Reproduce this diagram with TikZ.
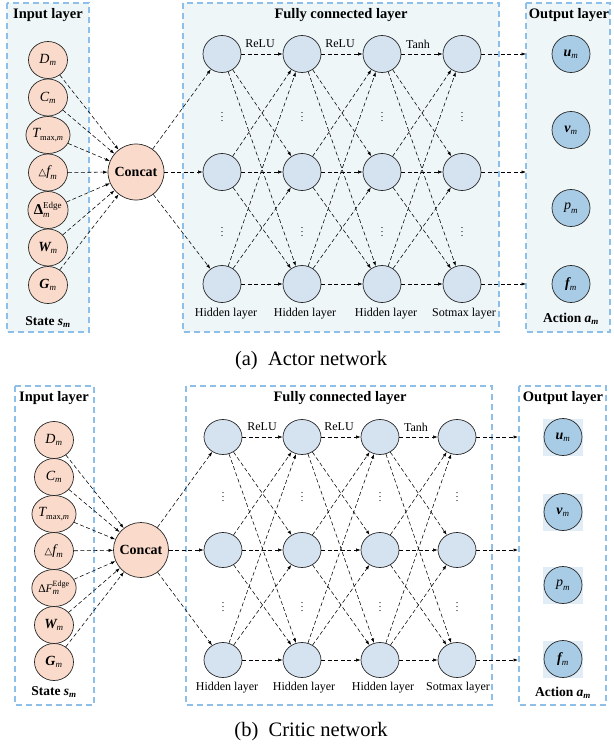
\documentclass[tikz,border=0pt]{standalone}
\usepackage{fontspec}
\setmainfont{Liberation Serif}
\newfontfamily\djv{DejaVu Sans}
\usetikzlibrary{shapes.geometric,arrows.meta}
\definecolor{peach}{HTML}{FADBCB}
\definecolor{hidb}{HTML}{D5E3F1}
\definecolor{outb}{HTML}{A9CCE6}
\definecolor{boxf}{HTML}{EEF6F8}
\definecolor{boxd}{HTML}{8EBFE8}
\definecolor{sqb}{HTML}{E0EDF6}
\newcommand\tx[1]{\hbox{#1}}
\newcommand\sbm[1]{\hbox{\fontsize{9}{9}\selectfont #1}}
\newcommand\iv[1]{$\tx{\itshape #1}_{\sbm{\itshape m}}$}
\newcommand\bv[1]{$\tx{\bfseries\itshape #1}_{\sbm{\itshape m}}$}
\newcommand\trif{{\djv\fontsize{10}{10}\selectfont △}\iv{f}}
\begin{document}
\begin{tikzpicture}[x=1pt,y=-1pt,
 lbox/.style={draw=boxd, line width=1.3pt, dash pattern=on 6pt off 4pt},
 inp/.style={ellipse, draw=black!85, line width=0.7pt, fill=peach, minimum width=39pt, minimum height=37pt, inner sep=0pt, font=\fontsize{14}{14}\selectfont},
 cct/.style={circle, draw=black!85, line width=0.7pt, fill=peach, minimum size=56pt, inner sep=0pt, font=\bfseries\fontsize{14}{14}\selectfont},
 hid/.style={ellipse, draw=black!85, line width=0.7pt, fill=hidb, minimum width=38pt, minimum height=37pt, inner sep=0pt},
 outc/.style={ellipse, draw=black!85, line width=0.7pt, fill=outb, minimum width=38pt, minimum height=37pt, inner sep=0pt, font=\fontsize{14}{14}\selectfont},
 sq/.style={fill=sqb, minimum width=40pt, minimum height=37pt, inner sep=0pt},
 conn/.style={line width=0.55pt, dash pattern=on 4pt off 2.5pt, -{Latex[length=4.5pt,width=3.2pt]}},
 ttl/.style={font=\bfseries\fontsize{14.5}{15}\selectfont, inner sep=0pt},
 lbl/.style={font=\fontsize{12}{12}\selectfont, inner sep=0pt},
 dts/.style={font=\fontsize{10}{10}\selectfont, inner sep=0pt},
 capt/.style={font=\fontsize{20.5}{21}\selectfont, inner sep=0pt}]
\useasboundingbox (0,0) rectangle (613,749);

% ================= (a) Actor network =================
\draw[lbox, fill=boxf] (7,3) rectangle (89,332);
\draw[lbox, fill=boxf] (183,3) rectangle (499,332);
\draw[lbox, fill=boxf] (526,3) rectangle (610,332);

\node[ttl] (at1) at (48,15) {Input layer};
\node[ttl] (at2) at (341,15) {Fully connected layer};
\node[ttl] (at3) at (569,15) {Output layer};

\node[inp] (a1) at (48,60) {\iv{D}};
\node[inp] (a2) at (48,97.5) {\iv{C}};
\node[inp] (a3) at (48,135) {$\tx{\itshape T}_{\hbox{\fontsize{8.5}{8.5}\selectfont max,\itshape m}}$};
\node[inp] (a4) at (48,172.5) {\trif};
\node[inp] (a5) at (48,210) {$\tx{\bfseries\fontsize{15}{15}\selectfont Δ}^{\sbm{Edge}}_{\sbm{\itshape m}}$};
\node[inp] (a6) at (48,247.5) {\bv{W}};
\node[inp] (a7) at (48,285) {\bv{G}};
\node[ttl, font=\bfseries\fontsize{13.5}{14}\selectfont] (as) at (48,322) {State \bv{s}};

\node[cct] (ac) at (136,172) {Concat};
\foreach \i in {1,...,7} \draw[conn] (a\i) -- (ac);

\foreach \c/\x in {1/222,2/302,3/382,4/462}{
  \foreach \r/\y in {1/54,2/172,3/284}{
    \node[hid] (ah\c\r) at (\x,\y) {};
  }
  \node[dts] (adu\c) at (\x,114) {$\vdots$};
  \node[dts] (add\c) at (\x,229) {$\vdots$};
}
\foreach \r in {1,2,3} \draw[conn] (ac) -- (ah1\r);
\foreach \c/\n in {1/2,2/3,3/4}
  \foreach \r in {1,2,3}
    \foreach \s in {1,2,3}
      \draw[conn] (ah\c\r) -- (ah\n\s);

\node[lbl] (ar1) at (260,44) {ReLU};
\node[lbl] (ar2) at (340,44) {ReLU};
\node[lbl] (ar3) at (418,44) {Tanh};

\node[lbl] (al1) at (226,314) {Hidden layer};
\node[lbl] (al2) at (305,314) {Hidden layer};
\node[lbl] (al3) at (386,314) {Hidden layer};
\node[lbl] (al4) at (464,314) {Sotmax layer};

\foreach \r/\y in {1/54,2/172,3/284}{
  \coordinate (ae\r) at (526,\y);
  \draw[conn] (ah4\r) -- (ae\r);
}

\node[outc] (ao1) at (571,54) {\bv{u}};
\node[outc] (ao2) at (571,130) {\bv{v}};
\node[outc] (ao3) at (571,208) {\iv{p}};
\node[outc] (ao4) at (571,284) {\bv{f}};
\node[ttl, font=\bfseries\fontsize{13.5}{14}\selectfont] (aa) at (571,319) {Action \bv{a}};

\node[capt] (capa) at (311,361) {(a)\hspace{0.5em}Actor network};

% ================= (b) Critic network =================
\draw[lbox] (15,386) rectangle (94,705);
\draw[lbox] (186,386) rectangle (492,705);
\draw[lbox] (519,386) rectangle (606,705);

\node[ttl] (bt1) at (54,398) {Input layer};
\node[ttl] (bt2) at (340,398) {Fully connected layer};
\node[ttl] (bt3) at (563,398) {Output layer};

\node[inp] (b1) at (54,440) {\iv{D}};
\node[inp] (b2) at (54,477) {\iv{C}};
\node[inp] (b3) at (54,514) {$\tx{\itshape T}_{\hbox{\fontsize{8.5}{8.5}\selectfont max,\itshape m}}$};
\node[inp] (b4) at (54,551) {\trif};
\node[inp] (b5) at (54,588) {\fontsize{11.5}{12}\selectfont$\tx{Δ\itshape F}^{\hbox{\fontsize{8}{8}\selectfont Edge}}_{\sbm{\itshape m}}$};
\node[inp] (b6) at (54,625) {\bv{W}};
\node[inp] (b7) at (54,662) {\bv{G}};
\node[ttl, font=\bfseries\fontsize{13.5}{14}\selectfont] (bs) at (54,692) {State \bv{s}};

\node[cct, minimum size=55pt] (bc) at (141,550) {Concat};
\foreach \i in {1,...,7} \draw[conn] (b\i) -- (bc);

\foreach \c/\x in {1/223,2/302,3/380,4/457}{
  \foreach \r/\y in {1/437,2/550,3/660}{
    \node[hid, minimum height=35pt] (bh\c\r) at (\x,\y) {};
  }
  \node[dts] (bdu\c) at (\x,494) {$\vdots$};
  \node[dts] (bdd\c) at (\x,604) {$\vdots$};
}
\foreach \r in {1,2,3} \draw[conn] (bc) -- (bh1\r);
\foreach \c/\n in {1/2,2/3,3/4}
  \foreach \r in {1,2,3}
    \foreach \s in {1,2,3}
      \draw[conn] (bh\c\r) -- (bh\n\s);

\node[lbl] (br1) at (262,427) {ReLU};
\node[lbl] (br2) at (339,427) {ReLU};
\node[lbl] (br3) at (416,427) {Tanh};

\node[lbl] (bl1) at (227,688) {Hidden layer};
\node[lbl] (bl2) at (304,688) {Hidden layer};
\node[lbl] (bl3) at (383,688) {Hidden layer};
\node[lbl] (bl4) at (458,688) {Sotmax layer};

\foreach \r/\y in {1/437,2/550,3/660}{
  \coordinate (be\r) at (518,\y);
  \draw[conn] (bh4\r) -- (be\r);
}

\foreach \i/\y in {1/437,2/512,3/585,4/659} \node[sq] (bq\i) at (563,\y) {};
\node[outc] (bo1) at (563,437) {\bv{u}};
\node[outc] (bo2) at (563,512) {\bv{v}};
\node[outc] (bo3) at (563,585) {\iv{p}};
\node[outc] (bo4) at (563,659) {\bv{f}};
\node[ttl, font=\bfseries\fontsize{13.5}{14}\selectfont] (ba) at (563,693) {Action \bv{a}};

\node[capt] (capb) at (311,732) {(b)\hspace{0.5em}Critic network};
\end{tikzpicture}
\end{document}
